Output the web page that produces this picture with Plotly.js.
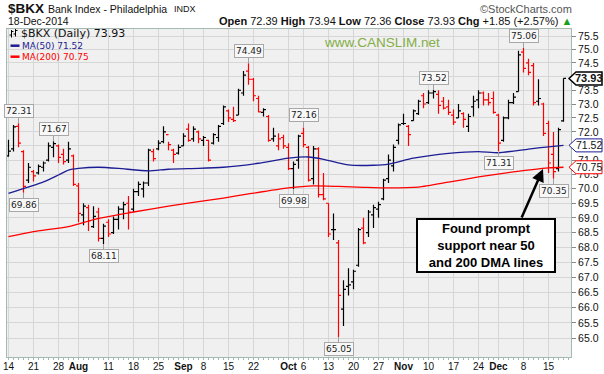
<!DOCTYPE html>
<html><head><meta charset="utf-8">
<script src="https://cdn.plot.ly/plotly-3.0.1.min.js"></script>
<style>html,body{margin:0;padding:0;background:#fff;}#chart{width:604px;height:374px;}</style>
</head><body><div id="chart"></div>
<script>
// ---- data ----
const dates = [
"2014-07-14","2014-07-15","2014-07-16","2014-07-17","2014-07-18","2014-07-21","2014-07-22","2014-07-23","2014-07-24","2014-07-25","2014-07-28","2014-07-29","2014-07-30","2014-07-31",
"2014-08-01","2014-08-04","2014-08-05","2014-08-06","2014-08-07","2014-08-08","2014-08-11","2014-08-12","2014-08-13","2014-08-14","2014-08-15","2014-08-18","2014-08-19","2014-08-20","2014-08-21","2014-08-22","2014-08-25","2014-08-26","2014-08-27","2014-08-28","2014-08-29",
"2014-09-02","2014-09-03","2014-09-04","2014-09-05","2014-09-08","2014-09-09","2014-09-10","2014-09-11","2014-09-12","2014-09-15","2014-09-16","2014-09-17","2014-09-18","2014-09-19","2014-09-22","2014-09-23","2014-09-24","2014-09-25","2014-09-26","2014-09-29","2014-09-30",
"2014-10-01","2014-10-02","2014-10-03","2014-10-06","2014-10-07","2014-10-08","2014-10-09","2014-10-10","2014-10-13","2014-10-14","2014-10-15","2014-10-16","2014-10-17","2014-10-20","2014-10-21","2014-10-22","2014-10-23","2014-10-24","2014-10-27","2014-10-28","2014-10-29","2014-10-30","2014-10-31",
"2014-11-03","2014-11-04","2014-11-05","2014-11-06","2014-11-07","2014-11-10","2014-11-11","2014-11-12","2014-11-13","2014-11-14","2014-11-17","2014-11-18","2014-11-19","2014-11-20","2014-11-21","2014-11-24","2014-11-25","2014-11-26","2014-11-28",
"2014-12-01","2014-12-02","2014-12-03","2014-12-04","2014-12-05","2014-12-08","2014-12-09","2014-12-10","2014-12-11","2014-12-12","2014-12-15","2014-12-16","2014-12-17","2014-12-18"];

const open = [71.15,71.40,72.20,71.30,70.30,70.60,70.55,70.75,71.00,71.45,71.50,71.20,71.00,71.15,
70.10,69.10,69.35,68.70,69.20,68.30,68.85,68.50,68.95,69.30,69.50,69.30,69.90,70.00,70.20,71.30,71.40,71.65,71.90,71.35,71.25,
71.50,72.10,71.75,72.00,71.70,71.70,71.60,71.80,72.30,72.75,72.45,72.60,73.40,74.20,73.90,73.20,72.70,72.55,71.75,71.50,71.80,
71.45,70.70,71.00,71.95,71.45,70.35,71.40,69.80,69.50,68.60,68.15,65.95,66.70,66.85,67.40,68.65,68.50,69.10,69.30,69.65,70.35,70.80,71.70,
72.30,72.20,72.40,72.65,73.30,73.05,73.40,73.35,73.10,72.90,72.60,72.50,72.65,72.20,72.90,73.15,73.40,73.15,73.20,
72.60,71.70,72.50,73.05,73.45,74.90,74.50,74.40,73.10,73.00,72.30,71.20,70.70,72.39];

const high = [71.72,72.25,72.31,71.35,70.90,70.65,70.85,70.95,71.62,71.67,71.55,71.40,71.65,71.20,
70.20,69.50,69.45,69.40,69.35,68.80,68.95,69.05,69.40,69.55,69.75,70.00,70.25,70.25,71.40,71.40,71.70,72.20,71.65,71.40,71.55,
71.95,72.30,72.20,72.05,71.85,71.72,71.95,72.25,72.95,72.80,72.90,73.55,74.20,74.49,73.95,73.30,72.85,72.60,72.15,71.95,71.90,
71.60,70.95,71.90,72.16,71.50,71.50,71.45,70.55,69.50,69.15,68.25,66.90,67.30,67.25,68.65,69.00,69.27,69.45,69.55,70.35,71.20,71.55,72.30,
72.65,72.25,72.80,73.15,73.40,73.50,73.52,73.50,73.25,73.15,72.80,73.00,72.70,72.65,73.30,73.50,73.45,73.40,73.45,
72.65,72.55,73.15,73.40,74.95,75.06,74.65,74.50,73.90,73.05,72.40,72.00,72.15,73.94];

const low = [71.12,71.30,71.45,69.86,70.20,70.25,70.50,70.60,70.95,71.10,70.90,70.85,70.90,70.10,
68.85,68.75,68.55,68.65,68.20,68.11,68.35,68.45,68.60,68.95,68.60,69.20,69.75,69.70,70.10,70.95,71.35,71.60,71.35,70.90,71.20,
71.50,71.65,71.65,71.60,71.50,70.95,71.55,71.65,72.25,72.35,72.35,72.60,73.30,73.70,73.10,72.70,72.55,71.65,71.65,71.35,71.40,
70.65,69.98,70.70,71.45,70.25,70.15,69.70,69.60,68.35,68.25,65.05,65.40,66.40,66.60,67.35,68.10,68.35,68.65,69.00,69.60,70.20,70.60,71.55,
72.25,71.50,72.40,72.60,72.85,73.00,73.20,72.65,72.80,72.60,72.25,72.50,72.15,72.00,72.55,72.85,72.95,72.95,72.65,
71.31,71.65,72.45,73.00,73.45,74.15,74.05,72.95,72.95,71.85,70.55,70.35,70.60,72.36];

const close = [71.32,72.18,71.60,70.08,70.75,70.45,70.78,70.90,71.50,71.58,71.10,70.95,71.40,70.15,
69.15,69.40,68.90,69.05,68.30,68.72,68.45,68.95,69.30,69.45,69.20,69.90,70.15,70.20,71.35,71.05,71.60,72.00,71.55,71.20,71.45,
71.85,71.70,72.10,71.75,71.80,71.00,71.90,72.20,72.90,72.50,72.40,73.50,74.05,73.90,73.30,72.72,72.80,71.70,71.85,71.75,71.50,
70.70,70.85,71.85,71.55,70.30,71.40,69.80,69.65,68.45,68.60,66.40,66.60,66.75,67.20,68.60,68.15,69.20,69.35,69.45,70.30,71.00,71.45,72.25,
72.30,71.90,72.75,73.10,73.00,73.40,73.45,72.95,72.85,72.70,72.35,72.75,72.45,72.55,73.10,73.40,73.15,73.05,72.70,
71.60,72.50,73.05,73.25,74.80,74.30,74.15,73.05,73.20,71.95,70.90,70.60,72.08,73.93];

// moving averages read at sample dates
const ma50Dates = ["2014-07-14","2014-07-23","2014-07-28","2014-07-30","2014-08-01","2014-08-07","2014-08-13","2014-08-21","2014-08-27","2014-09-05","2014-09-12","2014-09-17","2014-09-23","2014-10-01","2014-10-07","2014-10-10","2014-10-17","2014-10-24","2014-10-29","2014-11-05","2014-11-14","2014-11-24","2014-12-01","2014-12-09","2014-12-15","2014-12-18"];
const ma50 = [69.84,70.24,70.48,70.65,70.71,70.75,70.71,70.62,70.68,70.71,70.75,70.80,70.89,71.07,71.11,71.03,70.83,70.82,70.86,71.07,71.24,71.30,71.26,71.39,71.47,71.52];
const ma200Dates = ["2014-07-14","2014-07-21","2014-07-30","2014-08-07","2014-08-18","2014-08-27","2014-09-05","2014-09-12","2014-09-19","2014-10-01","2014-10-08","2014-10-15","2014-10-22","2014-10-29","2014-11-06","2014-11-14","2014-11-24","2014-12-04","2014-12-15","2014-12-18"];
const ma200 = [68.36,68.53,68.70,68.98,69.20,69.40,69.56,69.68,69.82,70.03,70.10,70.08,70.05,70.03,70.06,70.23,70.41,70.59,70.73,70.75];

// x tick labels
const tickDates = ["2014-07-14","2014-07-21","2014-07-28","2014-08-01","2014-08-11","2014-08-18","2014-08-25","2014-09-02","2014-09-08","2014-09-15","2014-09-22","2014-10-01","2014-10-06","2014-10-13","2014-10-20","2014-10-27","2014-11-03","2014-11-10","2014-11-17","2014-11-24","2014-12-01","2014-12-08","2014-12-15"];
const tickText = ["14","21","28","Aug","11","18","25","Sep","8","15","22","Oct","6","13","20","27","Nov","10","17","24","Dec","8","15"];
const yTicks = [65.0,65.5,66.0,66.5,67.0,67.5,68.0,68.5,69.0,69.5,70.0,70.5,71.0,71.5,72.0,72.5,73.0,73.5,74.0,74.5,75.0,75.5];

// swing high / low labels
const markDates = ["2014-07-16","2014-07-17","2014-07-25","2014-08-08","2014-09-19","2014-10-02","2014-10-06","2014-10-15","2014-11-11","2014-12-01","2014-12-08","2014-12-16"];
const markKind  = ["H","L","H","L","H","L","H","L","H","L","H","L"];

// ---- geometry helpers (layout only) ----
const L=7, T=29, W=564, H=328;
const yr=[1.80893,1.879452], xr=[-0.3,112.5];
const xp = px => (px-L)/W;
const yp = py => (T+H-py)/H;
const valPy = v => T + H*(yr[1]-Math.log10(v))/(yr[1]-yr[0]);
const xi = d => dates.indexOf(d);

// ---- traces ----
const up={x:[],open:[],high:[],low:[],close:[]}, dn={x:[],open:[],high:[],low:[],close:[]};
for(let i=0;i<dates.length;i++){
  const prev = i>0 ? close[i-1] : open[i];
  const g = close[i] >= prev ? up : dn;
  g.x.push(i); g.open.push(open[i]); g.high.push(high[i]); g.low.push(low[i]); g.close.push(close[i]);
}
function ohlc(g,c){return {type:'ohlc',x:g.x,open:g.open,high:g.high,low:g.low,close:g.close,
  increasing:{line:{color:c,width:1.2}},decreasing:{line:{color:c,width:1.2}},tickwidth:0.5,hoverinfo:'skip'};}
const traces=[
  {type:'scatter',mode:'lines',x:ma200Dates.map(xi),y:ma200,line:{color:'#ff0000',width:1.3,shape:'spline',smoothing:0.6},hoverinfo:'skip'},
  {type:'scatter',mode:'lines',x:ma50Dates.map(xi),y:ma50,line:{color:'#1c1c94',width:1.3,shape:'spline',smoothing:0.6},hoverinfo:'skip'},
  ohlc(dn,'#ff0000'), ohlc(up,'#000000')
];

// ---- shapes ----
const shapes=[];
tickDates.forEach((d,k)=>{ if(isNaN(+tickText[k])) shapes.push({type:'line',xref:'x',yref:'paper',x0:xi(d),x1:xi(d),y0:0,y1:1,line:{color:'#adadad',width:1},layer:'below'}); });
// legend glyphs
shapes.push({type:'path',xref:'paper',yref:'paper',path:`M${xp(11.5)},${yp(30)} L${xp(11.5)},${yp(37.5)} M${xp(9.5)},${yp(35)} L${xp(11.5)},${yp(35)} M${xp(11.5)},${yp(31.5)} L${xp(13.5)},${yp(31.5)} M${xp(15.5)},${yp(29)} L${xp(15.5)},${yp(36.5)} M${xp(13.5)},${yp(34)} L${xp(15.5)},${yp(34)} M${xp(15.5)},${yp(30.5)} L${xp(17.5)},${yp(30.5)}`,line:{color:'#000',width:1}});
shapes.push({type:'line',xref:'paper',yref:'paper',x0:xp(10.5),x1:xp(19.5),y0:yp(45.7),y1:yp(45.7),line:{color:'#1c1c94',width:2.5}});
shapes.push({type:'line',xref:'paper',yref:'paper',x0:xp(10.5),x1:xp(19.5),y0:yp(56.7),y1:yp(56.7),line:{color:'#ff0000',width:2.5}});

const n=dates.length;
const lastC=close[n-1], prevC=close[n-2];
const tags=[[lastC,'#000',1.5,true],[ma50[ma50.length-1],'#1c1c94',1,false],[ma200[ma200.length-1],'#ff0000',1,false]];
const annotations=[];
tags.forEach(([v,c,w,b])=>{
  const yc=valPy(v);
  shapes.push({type:'path',xref:'paper',yref:'paper',layer:'above',fillcolor:'#ffffff',line:{color:c,width:w},
    path:`M${xp(569)},${yp(yc)} L${xp(576)},${yp(yc-6.5)} L${xp(602)},${yp(yc-6.5)} L${xp(602)},${yp(yc+6.5)} L${xp(576)},${yp(yc+6.5)} Z`});
  annotations.push({xref:'paper',yref:'paper',x:xp(589),y:yp(yc),xanchor:'center',yanchor:'middle',showarrow:false,
    text:b?'<b>'+v.toFixed(2)+'</b>':v.toFixed(2),font:{size:b?11:10.5,color:'#111'}});
});
// y tick labels hidden behind a price tag
const tagPy = tags.map(t=>valPy(t[0]));
const yText = yTicks.map(v=>tagPy.some(p=>Math.abs(p-valPy(v))<6)?'':v.toFixed(1));

// swing labels
markDates.forEach((d,k)=>{
  const i=xi(d), v = markKind[k]==='H'?high[i]:low[i];
  annotations.push({x:i,y:Math.log10(v),xref:'x',yref:'y',text:v.toFixed(2),showarrow:true,arrowhead:0,arrowwidth:1,arrowcolor:'#a0a0a0',
    ax:0,ay:markKind[k]==='H'?-12:12,standoff:0,font:{family:'DejaVu Sans',size:9,color:'#222'},bgcolor:'#f8f8f8',bordercolor:'#a8a8a8',borderwidth:1,borderpad:1,height:10});
});

// header
const chg=lastC-prevC, pct=chg/prevC*100;
const sp='\u00a0';
annotations.push(
 {xref:'paper',yref:'paper',x:xp(6),y:yp(9),xanchor:'left',yanchor:'middle',showarrow:false,text:'<b>$BKX</b>',font:{size:13.5,color:'#111'}},
 {xref:'paper',yref:'paper',x:xp(46),y:yp(9.5),xanchor:'left',yanchor:'middle',showarrow:false,text:'Bank Index - Philadelphia',font:{size:10.5,color:'#111'}},
 {xref:'paper',yref:'paper',x:xp(172),y:yp(9.5),xanchor:'left',yanchor:'middle',showarrow:false,text:'INDX',font:{size:9,color:'#111'}},
 {xref:'paper',yref:'paper',x:xp(574),y:yp(9.5),xanchor:'right',yanchor:'middle',showarrow:false,text:'©StockCharts.com',font:{size:11,color:'#555'}},
 {xref:'paper',yref:'paper',x:xp(6),y:yp(21.5),xanchor:'left',yanchor:'middle',showarrow:false,text:'18-Dec-2014',font:{size:10.5,color:'#111'}},
 {xref:'paper',yref:'paper',x:xp(574),y:yp(21.5),xanchor:'right',yanchor:'middle',showarrow:false,
  text:`<b>Open</b> ${open[n-1].toFixed(2)}${sp}<b>High</b> ${high[n-1].toFixed(2)}${sp}<b>Low</b> ${low[n-1].toFixed(2)}${sp}<b>Close</b> ${lastC.toFixed(2)}${sp}<b>Chg</b> ${(chg>=0?'+':'')+chg.toFixed(2)} (${(pct>=0?'+':'')+pct.toFixed(2)}%) <span style="color:#19a019">▲</span>`,
  font:{size:11,color:'#111'}},
 // legend
 {xref:'paper',yref:'paper',x:xp(19),y:yp(33.3),xanchor:'left',yanchor:'middle',showarrow:false,text:'$BKX (Daily) '+lastC.toFixed(2),font:{family:'DejaVu Sans',size:11,color:'#111'}},
 {xref:'paper',yref:'paper',x:xp(19.5),y:yp(45.7),xanchor:'left',yanchor:'middle',showarrow:false,text:'MA(50) '+ma50[ma50.length-1].toFixed(2),font:{family:'DejaVu Sans',size:9,color:'#1c1c94'}},
 {xref:'paper',yref:'paper',x:xp(19.5),y:yp(56.7),xanchor:'left',yanchor:'middle',showarrow:false,text:'MA(200) '+ma200[ma200.length-1].toFixed(2),font:{family:'DejaVu Sans',size:9,color:'#ff0000'}},
 // watermark
 {xref:'paper',yref:'paper',x:xp(322),y:yp(42.5),xanchor:'left',yanchor:'middle',showarrow:false,text:'www.CANSLIM.net',font:{size:13.5,color:'#84ae47'}},
 // comment box + arrow
 {xref:'paper',yref:'paper',x:xp(543),y:yp(169),ax:-22,ay:50,showarrow:true,arrowhead:2,arrowsize:1,arrowwidth:2.5,arrowcolor:'#000',text:'',standoff:0},
 {xref:'paper',yref:'paper',x:xp(486),y:yp(245.5),xanchor:'center',yanchor:'middle',showarrow:false,
  text:'<b>Found prompt<br>support near 50<br>and 200 DMA lines</b>',font:{size:13,color:'#000'},bgcolor:'#fff',bordercolor:'#000',borderwidth:2,borderpad:0,width:136,height:51}
);

const layout={
  width:604,height:374,margin:{l:L,r:604-L-W,t:T,b:374-T-H},
  paper_bgcolor:'#ffffff',plot_bgcolor:'#f0f0f0',showlegend:false,hovermode:false,
  font:{family:'Liberation Sans, Arial, sans-serif',size:11,color:'#111'},
  xaxis:{range:xr,tickmode:'array',tickvals:tickDates.map(xi),
    ticktext:tickText.map(t=>isNaN(+t)?'<b>'+t+'</b>':t),
    showgrid:true,gridcolor:'#d6d6d6',gridwidth:1,zeroline:false,showline:true,linecolor:'#a3b9b2',mirror:true,
    ticks:'outside',ticklen:2,tickcolor:'#a3b9b2',tickfont:{size:10,color:'#111'},ticklabelstandoff:-2,
    minor:{tickmode:'linear',tick0:0,dtick:1,ticks:'outside',ticklen:2,tickcolor:'#a3b9b2',showgrid:false},
    rangeslider:{visible:false},fixedrange:true},
  yaxis:{type:'log',range:yr,side:'right',tickmode:'array',tickvals:yTicks,ticktext:yText,
    showgrid:true,gridcolor:'#d6d6d6',gridwidth:1,zeroline:false,showline:true,linecolor:'#a3b9b2',mirror:true,
    ticks:'outside',ticklen:4,tickcolor:'#888',tickfont:{size:10.5,color:'#111'},fixedrange:true},
  shapes:shapes,annotations:annotations
};
Plotly.newPlot('chart',traces,layout,{staticPlot:true,displayModeBar:false});
</script></body></html>
